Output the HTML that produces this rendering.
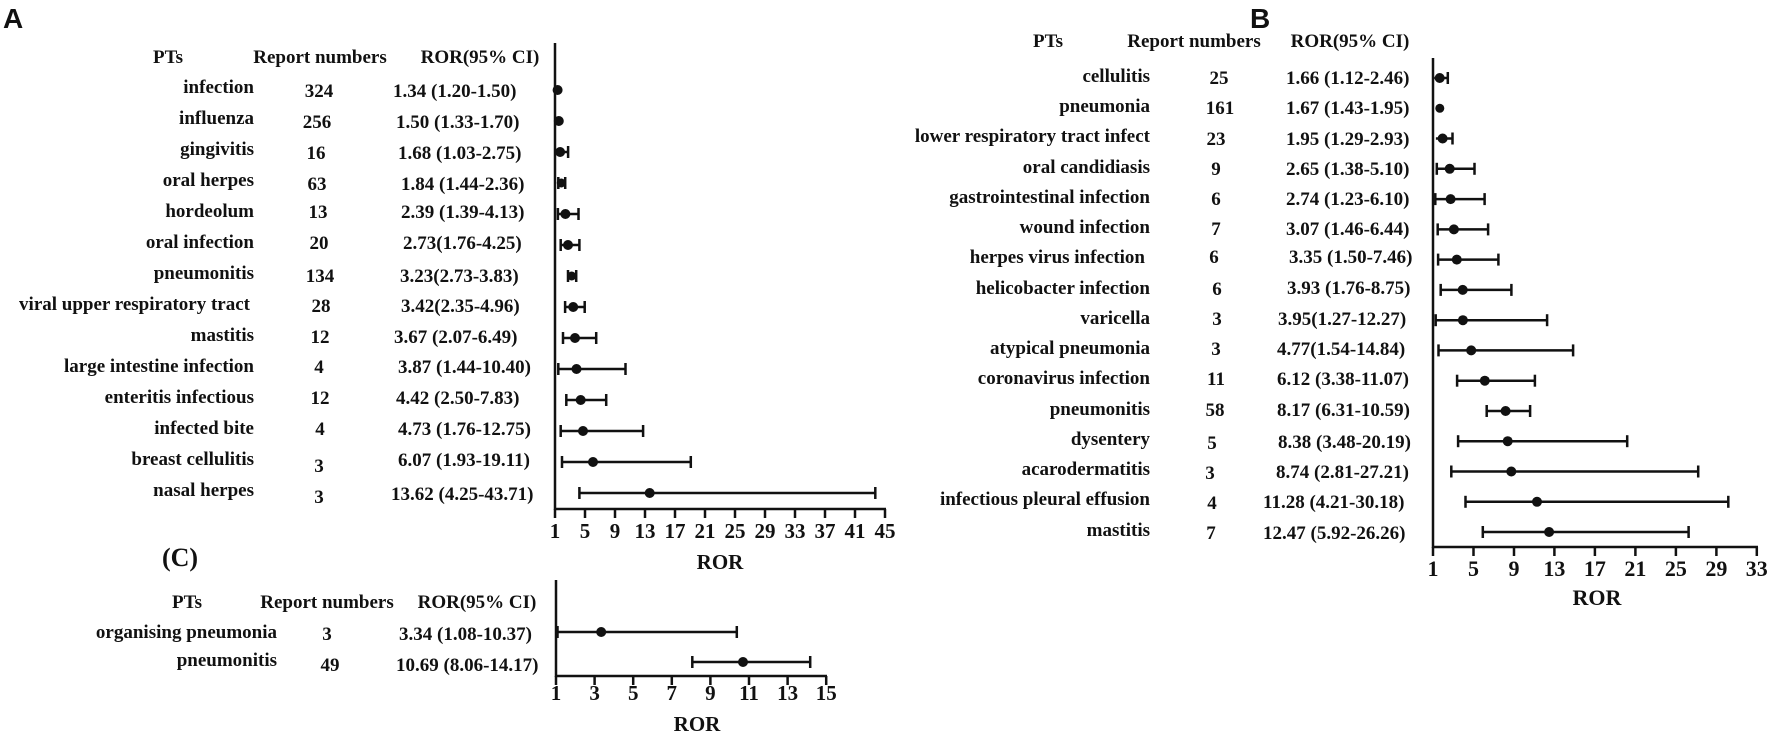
<!DOCTYPE html>
<html><head><meta charset="utf-8"><style>
html,body{margin:0;padding:0;background:#fff;}
svg{display:block;}
text{font-family:"Liberation Serif",serif;font-weight:bold;font-size:19px;fill:#111;}
.lab{font-family:"Liberation Sans",sans-serif;font-size:28px;}
.e{text-anchor:end}.m{text-anchor:middle}
line{stroke:#111;stroke-width:2.5}
circle{fill:#111}
</style></head><body>
<svg width="1772" height="735" viewBox="0 0 1772 735" xmlns="http://www.w3.org/2000/svg">
<!-- Panel A -->
<text class="lab" x="3" y="28">A</text>
<text class="m" x="168" y="63">PTs</text>
<text class="m" x="320" y="63">Report numbers</text>
<text class="m" x="480" y="63">ROR(95% CI)</text>
<text class="e" x="254" y="93">infection</text>
<text class="e" x="254" y="124">influenza</text>
<text class="e" x="254" y="155">gingivitis</text>
<text class="e" x="254" y="186">oral herpes</text>
<text class="e" x="254" y="217">hordeolum</text>
<text class="e" x="254" y="248">oral infection</text>
<text class="e" x="254" y="279">pneumonitis</text>
<text class="e" x="250" y="310">viral upper respiratory tract</text>
<text class="e" x="254" y="341">mastitis</text>
<text class="e" x="254" y="372">large intestine infection</text>
<text class="e" x="254" y="403">enteritis infectious</text>
<text class="e" x="254" y="434">infected bite</text>
<text class="e" x="254" y="465">breast cellulitis</text>
<text class="e" x="254" y="496">nasal herpes</text>
<text class="m" x="319" y="97">324</text>
<text class="m" x="317" y="128">256</text>
<text class="m" x="316" y="159">16</text>
<text class="m" x="317" y="190">63</text>
<text class="m" x="318" y="218">13</text>
<text class="m" x="319" y="249">20</text>
<text class="m" x="320" y="282">134</text>
<text class="m" x="321" y="312">28</text>
<text class="m" x="320" y="343">12</text>
<text class="m" x="319" y="373">4</text>
<text class="m" x="320" y="404">12</text>
<text class="m" x="320" y="435">4</text>
<text class="m" x="319" y="472">3</text>
<text class="m" x="319" y="503">3</text>
<text x="393" y="97">1.34 (1.20-1.50)</text>
<text x="396" y="128">1.50 (1.33-1.70)</text>
<text x="398" y="159">1.68 (1.03-2.75)</text>
<text x="401" y="190">1.84 (1.44-2.36)</text>
<text x="401" y="218">2.39 (1.39-4.13)</text>
<text x="403" y="249">2.73(1.76-4.25)</text>
<text x="400" y="282">3.23(2.73-3.83)</text>
<text x="401" y="312">3.42(2.35-4.96)</text>
<text x="394" y="343">3.67 (2.07-6.49)</text>
<text x="398" y="373">3.87 (1.44-10.40)</text>
<text x="396" y="404">4.42 (2.50-7.83)</text>
<text x="398" y="435">4.73 (1.76-12.75)</text>
<text x="398" y="466">6.07 (1.93-19.11)</text>
<text x="391" y="500">13.62 (4.25-43.71)</text>
<line x1="555" y1="43" x2="555" y2="510"/>
<line x1="554" y1="509" x2="886" y2="509"/>
<g>
<line x1="555" y1="509" x2="555" y2="518"/><line x1="585" y1="509" x2="585" y2="518"/><line x1="615" y1="509" x2="615" y2="518"/><line x1="645" y1="509" x2="645" y2="518"/><line x1="675" y1="509" x2="675" y2="518"/><line x1="705" y1="509" x2="705" y2="518"/><line x1="735" y1="509" x2="735" y2="518"/><line x1="765" y1="509" x2="765" y2="518"/><line x1="795" y1="509" x2="795" y2="518"/><line x1="825" y1="509" x2="825" y2="518"/><line x1="855" y1="509" x2="855" y2="518"/><line x1="885" y1="509" x2="885" y2="518"/>
</g>
<text class="m" x="555" y="538" style="font-size:21px">1</text><text class="m" x="585" y="538" style="font-size:21px">5</text><text class="m" x="615" y="538" style="font-size:21px">9</text><text class="m" x="645" y="538" style="font-size:21px">13</text><text class="m" x="675" y="538" style="font-size:21px">17</text><text class="m" x="705" y="538" style="font-size:21px">21</text><text class="m" x="735" y="538" style="font-size:21px">25</text><text class="m" x="765" y="538" style="font-size:21px">29</text><text class="m" x="795" y="538" style="font-size:21px">33</text><text class="m" x="825" y="538" style="font-size:21px">37</text><text class="m" x="855" y="538" style="font-size:21px">41</text><text class="m" x="885" y="538" style="font-size:21px">45</text>
<text class="m" x="720" y="569" style="font-size:21px">ROR</text>
<g>
<line x1="556.5" y1="90" x2="558.8" y2="90"/><circle cx="557.6" cy="90" r="5"/>
<line x1="557.5" y1="121" x2="560.3" y2="121"/><circle cx="558.8" cy="121" r="5"/>
<line x1="555.2" y1="152" x2="568.1" y2="152"/><line x1="568.1" y1="146" x2="568.1" y2="158"/><circle cx="560.1" cy="152" r="5"/>
<line x1="558.3" y1="183" x2="565.2" y2="183"/><line x1="558.3" y1="177" x2="558.3" y2="189"/><line x1="565.2" y1="177" x2="565.2" y2="189"/><circle cx="561.3" cy="183" r="4.5"/>
<line x1="557.9" y1="214" x2="578.5" y2="214"/><line x1="557.9" y1="208" x2="557.9" y2="220"/><line x1="578.5" y1="208" x2="578.5" y2="220"/><circle cx="565.4" cy="214" r="5"/>
<line x1="560.7" y1="245" x2="579.4" y2="245"/><line x1="560.7" y1="239" x2="560.7" y2="251"/><line x1="579.4" y1="239" x2="579.4" y2="251"/><circle cx="568" cy="245" r="5"/>
<line x1="568" y1="276" x2="576.2" y2="276"/><line x1="568" y1="270" x2="568" y2="282"/><line x1="576.2" y1="270" x2="576.2" y2="282"/><circle cx="571.7" cy="276" r="4.5"/>
<line x1="565.1" y1="307" x2="584.7" y2="307"/><line x1="565.1" y1="301" x2="565.1" y2="313"/><line x1="584.7" y1="301" x2="584.7" y2="313"/><circle cx="573.2" cy="307" r="5"/>
<line x1="563" y1="338" x2="596.2" y2="338"/><line x1="563" y1="332" x2="563" y2="344"/><line x1="596.2" y1="332" x2="596.2" y2="344"/><circle cx="575" cy="338" r="5"/>
<line x1="558.3" y1="369" x2="625.5" y2="369"/><line x1="558.3" y1="363" x2="558.3" y2="375"/><line x1="625.5" y1="363" x2="625.5" y2="375"/><circle cx="576.5" cy="369" r="5"/>
<line x1="566.3" y1="400" x2="606.2" y2="400"/><line x1="566.3" y1="394" x2="566.3" y2="406"/><line x1="606.2" y1="394" x2="606.2" y2="406"/><circle cx="580.7" cy="400" r="5"/>
<line x1="560.7" y1="431" x2="643.1" y2="431"/><line x1="560.7" y1="425" x2="560.7" y2="437"/><line x1="643.1" y1="425" x2="643.1" y2="437"/><circle cx="583" cy="431" r="5"/>
<line x1="562" y1="462" x2="690.8" y2="462"/><line x1="562" y1="456" x2="562" y2="468"/><line x1="690.8" y1="456" x2="690.8" y2="468"/><circle cx="593" cy="462" r="5"/>
<line x1="579.4" y1="493" x2="875.3" y2="493"/><line x1="579.4" y1="487" x2="579.4" y2="499"/><line x1="875.3" y1="487" x2="875.3" y2="499"/><circle cx="649.7" cy="493" r="5"/>
</g>

<!-- Panel B -->
<text class="lab" x="1250" y="28">B</text>
<text class="m" x="1048" y="47">PTs</text>
<text class="m" x="1194" y="47">Report numbers</text>
<text class="m" x="1350" y="47">ROR(95% CI)</text>
<text class="e" x="1150" y="82">cellulitis</text>
<text class="e" x="1150" y="112">pneumonia</text>
<text class="e" x="1150" y="142">lower respiratory tract infect</text>
<text class="e" x="1150" y="173">oral candidiasis</text>
<text class="e" x="1150" y="203">gastrointestinal infection</text>
<text class="e" x="1150" y="233">wound infection</text>
<text class="e" x="1145" y="263">herpes virus infection</text>
<text class="e" x="1150" y="294">helicobacter infection</text>
<text class="e" x="1150" y="324">varicella</text>
<text class="e" x="1150" y="354">atypical pneumonia</text>
<text class="e" x="1150" y="384">coronavirus infection</text>
<text class="e" x="1150" y="415">pneumonitis</text>
<text class="e" x="1150" y="445">dysentery</text>
<text class="e" x="1150" y="475">acarodermatitis</text>
<text class="e" x="1150" y="505">infectious pleural effusion</text>
<text class="e" x="1150" y="536">mastitis</text>
<text class="m" x="1219" y="84">25</text>
<text class="m" x="1220" y="114">161</text>
<text class="m" x="1216" y="145">23</text>
<text class="m" x="1216" y="175">9</text>
<text class="m" x="1216" y="205">6</text>
<text class="m" x="1216" y="235">7</text>
<text class="m" x="1214" y="263">6</text>
<text class="m" x="1217" y="295">6</text>
<text class="m" x="1217" y="325">3</text>
<text class="m" x="1216" y="355">3</text>
<text class="m" x="1216" y="385">11</text>
<text class="m" x="1215" y="416">58</text>
<text class="m" x="1212" y="449">5</text>
<text class="m" x="1210" y="479">3</text>
<text class="m" x="1212" y="509">4</text>
<text class="m" x="1211" y="539">7</text>
<text x="1286" y="84">1.66 (1.12-2.46)</text>
<text x="1286" y="114">1.67 (1.43-1.95)</text>
<text x="1286" y="145">1.95 (1.29-2.93)</text>
<text x="1286" y="175">2.65 (1.38-5.10)</text>
<text x="1286" y="205">2.74 (1.23-6.10)</text>
<text x="1286" y="235">3.07 (1.46-6.44)</text>
<text x="1289" y="263">3.35 (1.50-7.46)</text>
<text x="1287" y="294">3.93 (1.76-8.75)</text>
<text x="1278" y="325">3.95(1.27-12.27)</text>
<text x="1277" y="355">4.77(1.54-14.84)</text>
<text x="1277" y="385">6.12 (3.38-11.07)</text>
<text x="1277" y="416">8.17 (6.31-10.59)</text>
<text x="1278" y="448">8.38 (3.48-20.19)</text>
<text x="1276" y="478">8.74 (2.81-27.21)</text>
<text x="1263" y="508">11.28 (4.21-30.18)</text>
<text x="1263" y="539">12.47 (5.92-26.26)</text>
<line x1="1433" y1="58" x2="1433" y2="548"/>
<line x1="1432" y1="547" x2="1758" y2="547"/>
<g>
<line x1="1433" y1="547" x2="1433" y2="556"/><line x1="1473.5" y1="547" x2="1473.5" y2="556"/><line x1="1514" y1="547" x2="1514" y2="556"/><line x1="1554.4" y1="547" x2="1554.4" y2="556"/><line x1="1594.9" y1="547" x2="1594.9" y2="556"/><line x1="1635.4" y1="547" x2="1635.4" y2="556"/><line x1="1675.9" y1="547" x2="1675.9" y2="556"/><line x1="1716.4" y1="547" x2="1716.4" y2="556"/><line x1="1756.8" y1="547" x2="1756.8" y2="556"/>
</g>
<text class="m" x="1433" y="576" style="font-size:22px">1</text><text class="m" x="1473.5" y="576" style="font-size:22px">5</text><text class="m" x="1514" y="576" style="font-size:22px">9</text><text class="m" x="1554.4" y="576" style="font-size:22px">13</text><text class="m" x="1594.9" y="576" style="font-size:22px">17</text><text class="m" x="1635.4" y="576" style="font-size:22px">21</text><text class="m" x="1675.9" y="576" style="font-size:22px">25</text><text class="m" x="1716.4" y="576" style="font-size:22px">29</text><text class="m" x="1756.8" y="576" style="font-size:22px">33</text>
<text class="m" x="1597" y="605" style="font-size:22px">ROR</text>
<g>
<line x1="1434.2" y1="78" x2="1447.8" y2="78"/><line x1="1447.8" y1="72" x2="1447.8" y2="84"/><circle cx="1439.7" cy="78" r="5"/>
<line x1="1437.4" y1="108.3" x2="1442.6" y2="108.3"/><circle cx="1439.8" cy="108.3" r="4.5"/>
<line x1="1435.9" y1="138.5" x2="1452.5" y2="138.5"/><line x1="1452.5" y1="132.5" x2="1452.5" y2="144.5"/><circle cx="1442.6" cy="138.5" r="5"/>
<line x1="1436.8" y1="168.8" x2="1474.5" y2="168.8"/><line x1="1436.8" y1="162.8" x2="1436.8" y2="174.8"/><line x1="1474.5" y1="162.8" x2="1474.5" y2="174.8"/><circle cx="1449.7" cy="168.8" r="5"/>
<line x1="1435.3" y1="199.1" x2="1484.6" y2="199.1"/><line x1="1435.3" y1="193.1" x2="1435.3" y2="205.1"/><line x1="1484.6" y1="193.1" x2="1484.6" y2="205.1"/><circle cx="1450.6" cy="199.1" r="5"/>
<line x1="1437.7" y1="229.4" x2="1488.1" y2="229.4"/><line x1="1437.7" y1="223.4" x2="1437.7" y2="235.4"/><line x1="1488.1" y1="223.4" x2="1488.1" y2="235.4"/><circle cx="1453.9" cy="229.4" r="5"/>
<line x1="1438.1" y1="259.6" x2="1498.4" y2="259.6"/><line x1="1438.1" y1="253.6" x2="1438.1" y2="265.6"/><line x1="1498.4" y1="253.6" x2="1498.4" y2="265.6"/><circle cx="1456.8" cy="259.6" r="5"/>
<line x1="1440.7" y1="289.9" x2="1511.4" y2="289.9"/><line x1="1440.7" y1="283.9" x2="1440.7" y2="295.9"/><line x1="1511.4" y1="283.9" x2="1511.4" y2="295.9"/><circle cx="1462.7" cy="289.9" r="5"/>
<line x1="1435.7" y1="320.2" x2="1547.1" y2="320.2"/><line x1="1435.7" y1="314.2" x2="1435.7" y2="326.2"/><line x1="1547.1" y1="314.2" x2="1547.1" y2="326.2"/><circle cx="1462.9" cy="320.2" r="5"/>
<line x1="1438.5" y1="350.4" x2="1573.1" y2="350.4"/><line x1="1438.5" y1="344.4" x2="1438.5" y2="356.4"/><line x1="1573.1" y1="344.4" x2="1573.1" y2="356.4"/><circle cx="1471.2" cy="350.4" r="5"/>
<line x1="1457.1" y1="380.7" x2="1534.9" y2="380.7"/><line x1="1457.1" y1="374.7" x2="1457.1" y2="386.7"/><line x1="1534.9" y1="374.7" x2="1534.9" y2="386.7"/><circle cx="1484.8" cy="380.7" r="5"/>
<line x1="1486.7" y1="411" x2="1530.1" y2="411"/><line x1="1486.7" y1="405" x2="1486.7" y2="417"/><line x1="1530.1" y1="405" x2="1530.1" y2="417"/><circle cx="1505.6" cy="411" r="5"/>
<line x1="1458.1" y1="441.2" x2="1627.2" y2="441.2"/><line x1="1458.1" y1="435.2" x2="1458.1" y2="447.2"/><line x1="1627.2" y1="435.2" x2="1627.2" y2="447.2"/><circle cx="1507.7" cy="441.2" r="5"/>
<line x1="1451.3" y1="471.5" x2="1698.2" y2="471.5"/><line x1="1451.3" y1="465.5" x2="1451.3" y2="477.5"/><line x1="1698.2" y1="465.5" x2="1698.2" y2="477.5"/><circle cx="1511.3" cy="471.5" r="5"/>
<line x1="1465.5" y1="501.8" x2="1728.3" y2="501.8"/><line x1="1465.5" y1="495.8" x2="1465.5" y2="507.8"/><line x1="1728.3" y1="495.8" x2="1728.3" y2="507.8"/><circle cx="1537" cy="501.8" r="5"/>
<line x1="1482.8" y1="532" x2="1688.6" y2="532"/><line x1="1482.8" y1="526" x2="1482.8" y2="538"/><line x1="1688.6" y1="526" x2="1688.6" y2="538"/><circle cx="1549.1" cy="532" r="5"/>
</g>

<!-- Panel C -->
<text class="m" x="180" y="566" style="font-size:26px">(C)</text>
<text class="m" x="187" y="608">PTs</text>
<text class="m" x="327" y="608">Report numbers</text>
<text class="m" x="477" y="608">ROR(95% CI)</text>
<text class="e" x="277" y="638">organising pneumonia</text>
<text class="e" x="277" y="666">pneumonitis</text>
<text class="m" x="327" y="640">3</text>
<text class="m" x="330" y="671">49</text>
<text x="399" y="640">3.34 (1.08-10.37)</text>
<text x="396" y="671">10.69 (8.06-14.17)</text>
<line x1="556" y1="580" x2="556" y2="677"/>
<line x1="555" y1="676" x2="827" y2="676"/>
<line x1="556" y1="676" x2="556" y2="685"/><line x1="594.6" y1="676" x2="594.6" y2="685"/><line x1="633.2" y1="676" x2="633.2" y2="685"/><line x1="671.8" y1="676" x2="671.8" y2="685"/><line x1="710.4" y1="676" x2="710.4" y2="685"/><line x1="749" y1="676" x2="749" y2="685"/><line x1="787.6" y1="676" x2="787.6" y2="685"/><line x1="826.2" y1="676" x2="826.2" y2="685"/>
<text class="m" x="556" y="700" style="font-size:21px">1</text><text class="m" x="594.6" y="700" style="font-size:21px">3</text><text class="m" x="633.2" y="700" style="font-size:21px">5</text><text class="m" x="671.8" y="700" style="font-size:21px">7</text><text class="m" x="710.4" y="700" style="font-size:21px">9</text><text class="m" x="749" y="700" style="font-size:21px">11</text><text class="m" x="787.6" y="700" style="font-size:21px">13</text><text class="m" x="826.2" y="700" style="font-size:21px">15</text>
<text class="m" x="697" y="731" style="font-size:21px">ROR</text>
<line x1="557.5" y1="632" x2="736.8" y2="632"/><line x1="557.5" y1="626" x2="557.5" y2="638"/><line x1="736.8" y1="626" x2="736.8" y2="638"/><circle cx="601.2" cy="632" r="5"/>
<line x1="692.3" y1="662" x2="810.2" y2="662"/><line x1="692.3" y1="656" x2="692.3" y2="668"/><line x1="810.2" y1="656" x2="810.2" y2="668"/><circle cx="743" cy="662" r="5"/>
</svg>
</body></html>
